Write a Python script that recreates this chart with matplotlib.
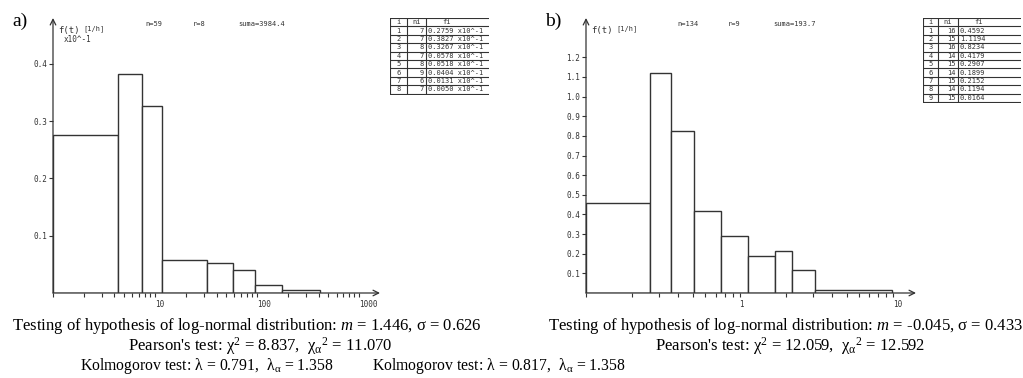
import numpy as np
import matplotlib
matplotlib.use("Agg")
from matplotlib import pyplot as plt
from matplotlib.ticker import FixedLocator, FixedFormatter, LogLocator, NullFormatter

plt.rcParams['mathtext.fontset'] = 'custom'
plt.rcParams['mathtext.rm'] = 'Liberation Serif'
plt.rcParams['mathtext.it'] = 'Liberation Serif:italic'

W, H = 1023, 378

# a) class edges, frequencies (x10^-1) and counts
edges_a = [1.0, 4.3, 7.4, 11.6, 32.1, 58.3, 96.0, 174.0, 411.0]
fi_a = [0.2759, 0.3827, 0.3267, 0.0578, 0.0518, 0.0404, 0.0131, 0.0050]
ni_a = [7, 7, 8, 7, 8, 9, 6, 7]

# b) class edges, frequencies and counts
edges_b = [0.1, 0.26, 0.36, 0.505, 0.755, 1.14, 1.69, 2.21, 3.09, 9.9]
fi_b = [0.4592, 1.1194, 0.8234, 0.4179, 0.2907, 0.1899, 0.2152, 0.1194, 0.0164]
ni_b = [16, 15, 16, 14, 15, 14, 15, 14, 15]

yticks_a = [0.1, 0.2, 0.3, 0.4]
yticks_b = [0.1, 0.2, 0.3, 0.4, 0.5, 0.6, 0.7, 0.8, 0.9, 1.0, 1.1, 1.2]
xticks_a = [10, 100, 1000]
xticks_b = [1, 10]

mono = 'DejaVu Sans Mono'
serif = 'Liberation Serif'
ink = '#333333'

fig = plt.figure(figsize=(W / 100, H / 100), dpi=100)


def px_axes(x0, y0, x1, y1):
    return fig.add_axes([x0 / W, 1 - y1 / H, (x1 - x0) / W, (y1 - y0) / H])


def histogram(box, edges, fi, xlim, ylim, yticks, xticks):
    ax = px_axes(*box)
    ax.set_xscale('log')
    widths = np.diff(edges)
    ax.bar(edges[:-1], fi, width=widths, align='edge', color='white',
           edgecolor=ink, linewidth=1.0)
    ax.set_xlim(*xlim)
    ax.set_ylim(*ylim)
    for s in ax.spines.values():
        s.set_visible(False)
    ax.patch.set_alpha(0)
    # axes with arrow heads
    ax.annotate('', xy=(0, 1), xytext=(0, 0), xycoords='axes fraction',
                arrowprops=dict(arrowstyle='->', lw=0.9, color=ink, shrinkA=0, shrinkB=0))
    ax.annotate('', xy=(1, 0), xytext=(0, 0), xycoords='axes fraction',
                arrowprops=dict(arrowstyle='->', lw=0.9, color=ink, shrinkA=0, shrinkB=0))
    ax.yaxis.set_major_locator(FixedLocator(yticks))
    ax.yaxis.set_major_formatter(FixedFormatter(['%.1f' % v for v in yticks]))
    ax.xaxis.set_major_locator(FixedLocator(xticks))
    ax.xaxis.set_major_formatter(FixedFormatter([str(v) for v in xticks]))
    ax.xaxis.set_minor_locator(LogLocator(base=10, subs=np.arange(1, 10)))
    ax.xaxis.set_minor_formatter(NullFormatter())
    ax.tick_params(axis='y', direction='out', length=3, width=0.8, color=ink,
                   labelsize=5.5, labelcolor=ink, pad=1)
    ax.tick_params(axis='x', which='both', direction='out', length=3, width=0.8,
                   color=ink, labelsize=5.5, labelcolor=ink, pad=2)
    for lab in ax.get_xticklabels() + ax.get_yticklabels():
        lab.set_family(mono)
    for lab in ax.get_xticklabels():
        lab.set_horizontalalignment('left')
    return ax


def table(x0, x1, y0, row_h, splits, ni, fi_txt):
    nrows = len(ni) + 1
    y1 = y0 + nrows * row_h
    ax = px_axes(x0, y0, x1 + 1, y1 + 1)
    ax.set_xlim(x0, x1 + 1)
    ax.set_ylim(y1 + 1, y0)
    ax.axis('off')
    for r in range(nrows + 1):
        ax.plot([x0, x1], [y0 + r * row_h] * 2, color=ink, lw=0.8)
    for xs in [x0] + splits:
        ax.plot([xs, xs], [y0, y1], color=ink, lw=0.8)
    kw = dict(family=mono, fontsize=5, color=ink, va='center')
    ax.text((x0 + splits[0]) / 2, y0 + row_h / 2, 'i', ha='center', **kw)
    ax.text((splits[0] + splits[1]) / 2, y0 + row_h / 2, 'ni', ha='center', **kw)
    ax.text(splits[1] + 21, y0 + row_h / 2, 'fi', ha='center', **kw)
    for k in range(len(ni)):
        yc = y0 + (k + 1.5) * row_h
        ax.text((x0 + splits[0]) / 2, yc, str(k + 1), ha='center', **kw)
        ax.text(splits[1] - 2, yc, str(ni[k]), ha='right', **kw)
        ax.text(splits[1] + 2, yc, fi_txt[k], ha='left', **kw)


histogram((53, 18, 380, 293), edges_a, fi_a, (1.0, 1600), (0, 0.48), yticks_a, xticks_a)
histogram((586, 18, 916, 293), edges_b, fi_b, (0.1, 14.1), (0, 1.40), yticks_b, xticks_b)

table(390, 488, 18, 8.4, [407, 426], ni_a, ['%.4f x10^-1' % v for v in fi_a])
table(923, 1020, 18, 8.4, [938, 958], ni_b, ['%.4f' % v for v in fi_b])


def ftext(x, y, s, **kw):
    fig.text(x / W, 1 - y / H, s, **kw)


small = dict(family=mono, color=ink, va='center')
# panel a header
ftext(12, 21, 'a)', family=serif, fontsize=14, va='center')
ftext(58, 30, 'f(t)', fontsize=6.5, **small)
ftext(83, 29, '[1/h]', fontsize=5, **small)
ftext(64, 39, 'x10^-1', fontsize=5.5, **small)
ftext(145, 24, 'n=59', fontsize=5, **small)
ftext(193, 24, 'r=8', fontsize=5, **small)
ftext(238, 24, 'suma=3984.4', fontsize=5, **small)
# panel b header
ftext(545, 21, 'b)', family=serif, fontsize=14, va='center')
ftext(591, 30, 'f(t)', fontsize=6.5, **small)
ftext(616, 29, '[1/h]', fontsize=5, **small)
ftext(677, 24, 'n=134', fontsize=5, **small)
ftext(728, 24, 'r=9', fontsize=5, **small)
ftext(773, 24, 'suma=193.7', fontsize=5, **small)

# test results
big = dict(family=serif, fontsize=12, va='center')
sig = r'$\mathrm{\sigma}$'
chi2 = r'$\mathrm{\chi}^2$'
chia2 = r'$\mathrm{\chi}_{\mathrm{\alpha}}{}^{2}$'
lam = r'$\mathrm{\lambda}$'
lama = r'$\mathrm{\lambda}_{\mathrm{\alpha}}$'
ftext(12, 326, 'Testing of hypothesis of log-normal distribution: $m$ = 1.446, ' + sig + ' = 0.626', ha='left', **big)
ftext(128, 346, "Pearson's test: " + chi2 + ' = 8.837,  ' + chia2 + ' = 11.070', ha='left', **big)
ftext(80, 366, 'Kolmogorov test: ' + lam + ' = 0.791,  ' + lama + ' = 1.358', ha='left',
      family=serif, fontsize=11.3, va='center')
ftext(372, 366, 'Kolmogorov test: ' + lam + ' = 0.817,  ' + lama + ' = 1.358', ha='left',
      family=serif, fontsize=11.3, va='center')
ftext(548, 326, 'Testing of hypothesis of log-normal distribution: $m$ = -0.045, ' + sig + ' = 0.433', ha='left', **big)
ftext(655, 346, "Pearson's test: " + chi2 + ' = 12.059,  ' + chia2 + ' = 12.592', ha='left', **big)

fig.savefig('out.png', dpi=100)
